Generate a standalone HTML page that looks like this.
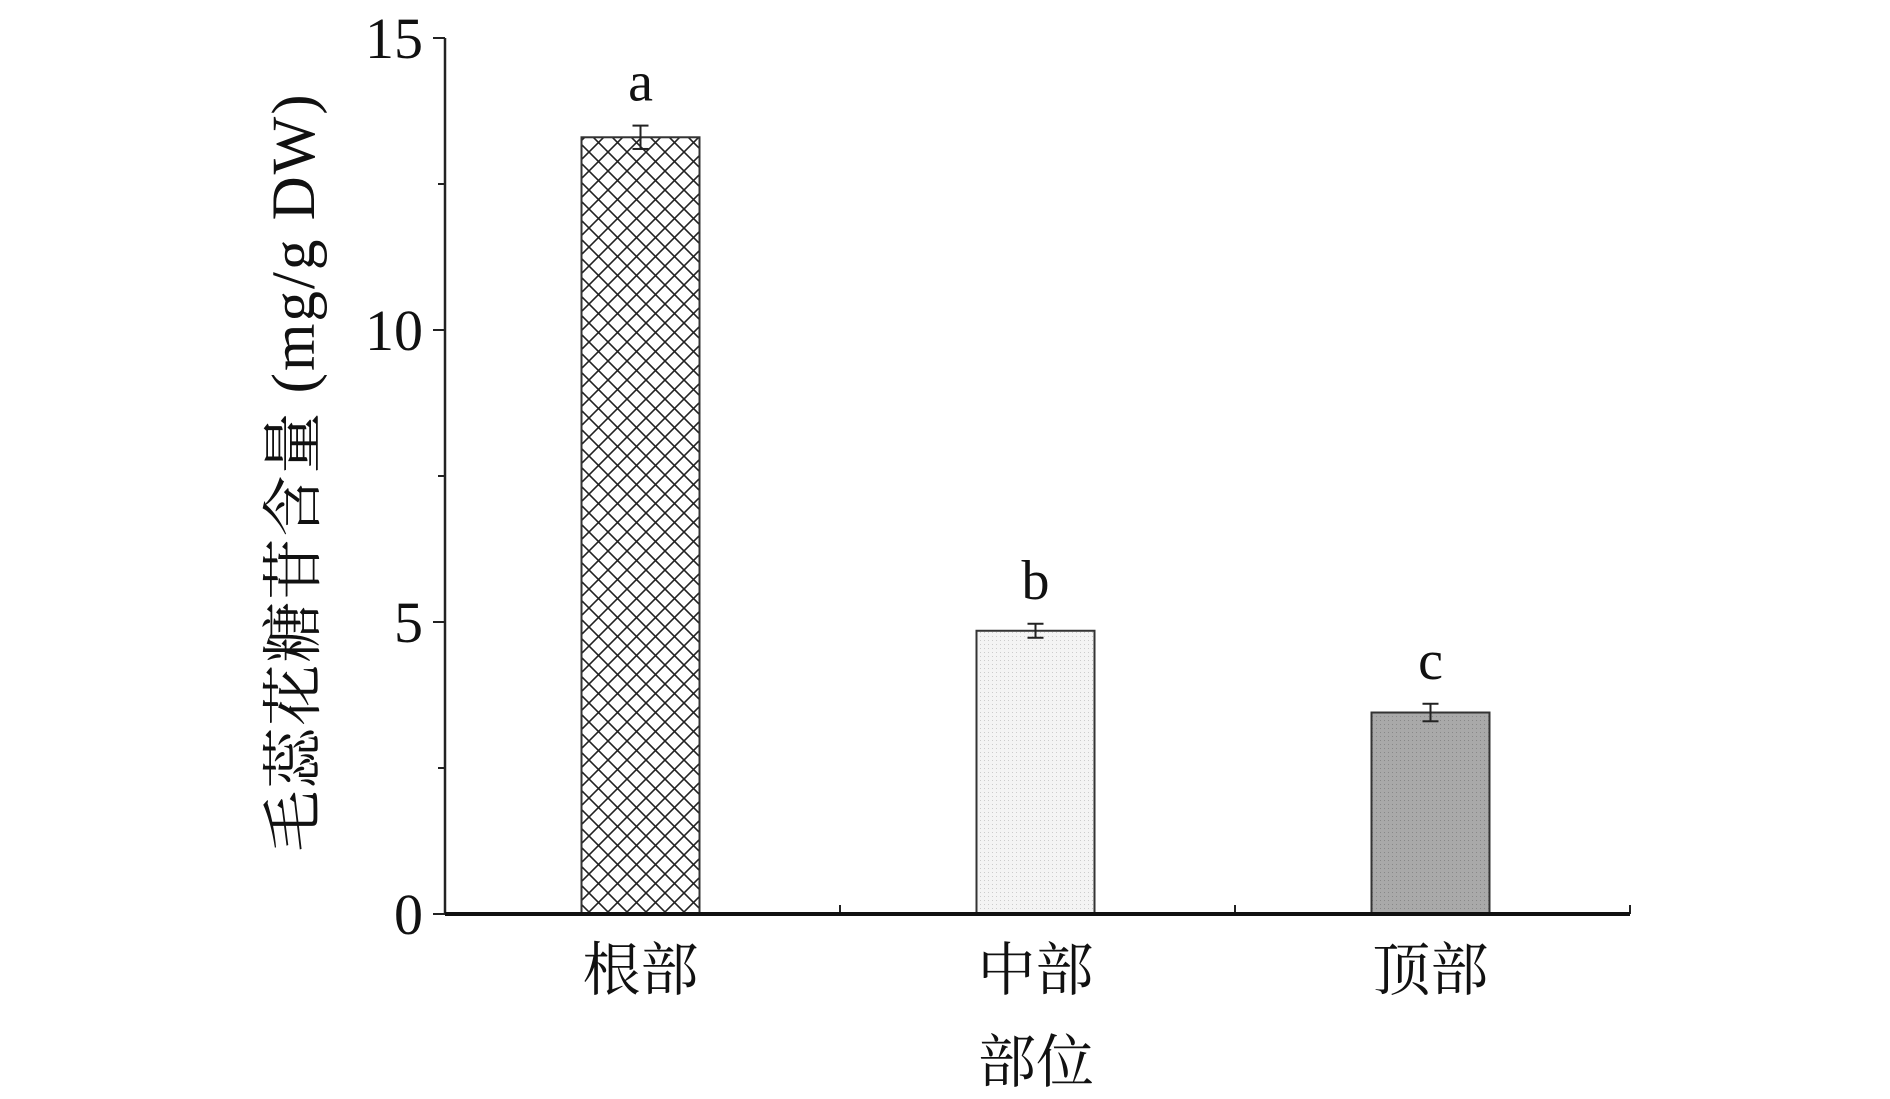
<!DOCTYPE html>
<html><head><meta charset="utf-8"><style>
html,body{margin:0;padding:0;background:#fff;}
svg{display:block;font-family:"Liberation Serif","Noto Serif CJK SC",serif;}
</style></head><body>
<svg id="chart" width="1890" height="1099">
<defs>
<pattern id="hatch" width="19" height="19" patternUnits="userSpaceOnUse">
<path d="M0,0 L19,19 M19,0 L0,19" stroke="#222" stroke-width="1.6"/>
</pattern>
<pattern id="dots" width="4" height="4" patternUnits="userSpaceOnUse">
<rect width="4" height="4" fill="#f4f4f4"/><rect width="1" height="1" fill="#ccc"/>
</pattern>
<pattern id="dark" width="4" height="4" patternUnits="userSpaceOnUse">
<rect width="4" height="4" fill="#a9a9a9"/><rect width="1" height="1" fill="#888"/>
</pattern>
</defs>
<g id="plot"></g>
</svg>
<script>
const categories = ["根部","中部","顶部"];
const values = [13.3, 4.85, 3.45];
const errors = [0.2, 0.12, 0.15];
const letters = ["a","b","c"];
const yTicks = [0,5,10,15];
const yMinor = [2.5,7.5,12.5];
const fills = ["url(#hatch)","url(#dots)","url(#dark)"];

const X0=445, X1=1630, Y0=914, Ytop=38, band=(X1-X0)/3, barW=118;
const y = v => Y0 - (v/15)*(Y0-Ytop);
const xc = i => X0 + band*(i+0.5) - 2;
const g = document.getElementById('plot');
const NS='http://www.w3.org/2000/svg';
function mk(tag, attrs, parent){const e=document.createElementNS(NS,tag);for(const k in attrs)e.setAttribute(k,attrs[k]);(parent||g).appendChild(e);return e;}

categories.forEach((c,i)=>{
  const r=mk('rect',{x:xc(i)-barW/2,y:y(values[i]),width:barW,height:Y0-y(values[i]),fill:fills[i],stroke:'#333','stroke-width':2});
  
  
  const eg=mk('g',{stroke:'#222','stroke-width':2});
  
  
  const cx=xc(i), t=y(values[i]+errors[i]), b=y(values[i]-errors[i]);
  mk('line',{x1:cx,x2:cx,y1:t,y2:b},eg);
  mk('line',{x1:cx-8,x2:cx+8,y1:t,y2:t},eg);
  mk('line',{x1:cx-8,x2:cx+8,y1:b,y2:b},eg);
  const l=mk('text',{x:cx,y:y(values[i]+errors[i])-25,'text-anchor':'middle','font-size':56,fill:'#111'});
  l.textContent=letters[i];
  
  
  const cl=mk('text',{x:cx,y:990,'text-anchor':'middle','font-size':58,fill:'#111'});
  cl.textContent=c;
  
  
  mk('line',{x1:X0+band*(i+1),x2:X0+band*(i+1),y1:Y0,y2:Y0-9,stroke:'#222','stroke-width':2});
});
yTicks.forEach(v=>{
  mk('line',{x1:X0-12,x2:X0,y1:y(v),y2:y(v),stroke:'#222','stroke-width':2});
  const t=mk('text',{x:X0-22,y:y(v)+20,'text-anchor':'end','font-size':58,fill:'#111'});
  t.textContent=v;
  
  
});
yMinor.forEach(v=>mk('line',{x1:X0-7,x2:X0,y1:y(v),y2:y(v),stroke:'#222','stroke-width':2}));
const ya=mk('line',{x1:X0,x2:X0,y1:Ytop,y2:Y0,stroke:'#222','stroke-width':2.5});


const xa=mk('line',{x1:X0,x2:X1,y1:Y0,y2:Y0,stroke:'#111','stroke-width':4});


const yt=mk('text',{x:0,y:0,'text-anchor':'middle','font-size':61,fill:'#111','letter-spacing':'2',transform:'translate(314,472) rotate(-90)'});
yt.textContent='毛蕊花糖苷含量 (mg/g DW)';


const xt=mk('text',{x:1036,y:1082,'text-anchor':'middle','font-size':58,fill:'#111'});
xt.textContent='部位';


</script>
</body></html>
